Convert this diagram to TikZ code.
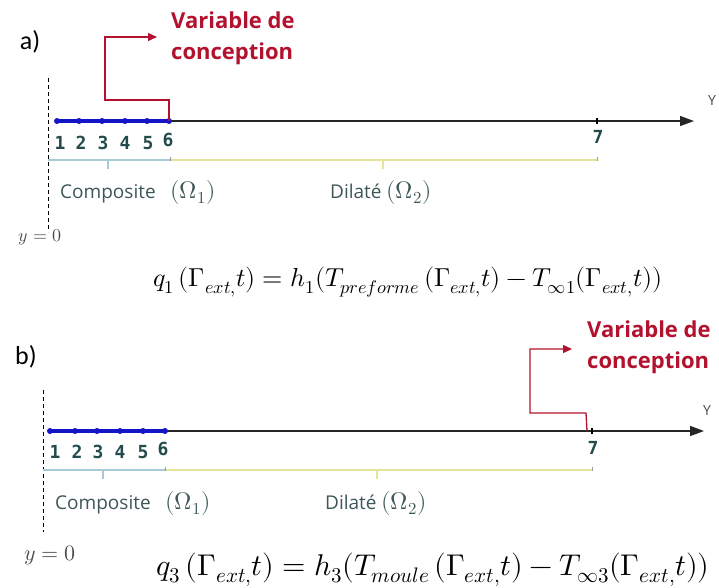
\documentclass[tikz,border=0pt]{standalone}
\usepackage{fontspec}
\usepackage{unicode-math}
\setmainfont{Carlito}
\setmathfont{Latin Modern Math}
\newfontfamily\numfont{DejaVu Sans Mono}
\newfontfamily\labfont{Open Sans}
\newfontfamily\redfont{Open Sans}
\usetikzlibrary{arrows.meta}
\definecolor{vred}{HTML}{B3122E}
\definecolor{vblue}{HTML}{1414C8}
\definecolor{nteal}{HTML}{234B4B}
\definecolor{lgray}{HTML}{3E5656}
\definecolor{bbr}{HTML}{A8CAD6}
\definecolor{ybr}{HTML}{E4E49A}
\newcommand{\omlab}[1]{{\fontsize{24}{24}\selectfont$(\Omega_{#1})$}}
\begin{document}
\begin{tikzpicture}[x=1pt,y=-1pt,
  panel/.style={font=\fontsize{26}{28}\selectfont, inner sep=0pt},
  vtext/.style={font=\fontsize{22}{31}\selectfont\redfont\bfseries, text=vred, align=left, inner sep=0pt, anchor=west},
  redc/.style={draw=vred, line width=1.3pt},
  redarrow/.style={redc, -{Triangle[length=9pt,width=8pt]}},
  dashline/.style={draw=black, dashed, line width=0.8pt, dash pattern=on 4pt off 3pt},
  axisline/.style={draw=black!85, line width=1.4pt, -{Triangle[length=14pt,width=10pt]}},
  bluel/.style={draw=vblue, line width=3.2pt},
  bdot/.style={circle, fill=vblue, inner sep=0pt, minimum size=6pt},
  num/.style={font=\fontsize{18}{18}\selectfont\numfont\bfseries, text=nteal, inner sep=0pt},
  bbrace/.style={draw=bbr, line width=1.4pt},
  ybrace/.style={draw=ybr, line width=2pt},
  dom/.style={font=\fontsize{19}{20}\selectfont\labfont, text=lgray, inner sep=0pt, anchor=west},
  yl/.style={font=\fontsize{14}{16}\selectfont\labfont, text=black!70, inner sep=0pt},
  eqna/.style={font=\fontsize{26}{26}\selectfont, inner sep=0pt},
  eqnb/.style={font=\fontsize{30}{30}\selectfont, inner sep=0pt},
  yzero/.style={font=\fontsize{18}{20}\selectfont, text=black!70, inner sep=0pt},
  yzerob/.style={font=\fontsize{22}{22}\selectfont, text=black!70, inner sep=0pt}
]
\useasboundingbox (0,0) rectangle (719,587);

%% ===== Panel a =====
\node[panel] (la) at (30,42) {a)};
\node[vtext] (va) at (171,38) {Variable de\\conception};
\coordinate (da1) at (48,78);
\coordinate (da2) at (48,232);
\draw[dashline] (da1) -- (da2);
\coordinate (a1) at (57,121);
\coordinate (a2) at (79,121);
\coordinate (a3) at (102,121);
\coordinate (a4) at (125,121);
\coordinate (a5) at (147,121);
\coordinate (a6) at (169,121);
\coordinate (a7) at (597,121);
\coordinate (ae) at (694,121);
\draw[axisline] (a6) -- (ae);
\draw[bluel] (a1) -- (a6);
\foreach \i in {1,...,6} \node[bdot] at (a\i) {};
\draw[line width=1.2pt] ([yshift=-3pt]a7) -- ([yshift=3pt]a7);
\node[yl] (ya) at (712,100) {Y};
\node[num] (na1) at (60,143) {1};
\node[num] (na2) at (81,143) {2};
\node[num] (na3) at (103,143) {3};
\node[num] (na4) at (125,143) {4};
\node[num] (na5) at (148,143) {5};
\node[num] (na6) at (168,140) {6};
\node[num] (na7) at (598,137) {7};
\coordinate (ra0) at (169,100);
\coordinate (ra1) at (105,100);
\coordinate (ra2) at (105,37);
\coordinate (ra3) at (157,37);
\draw[redarrow] (a6) -- (ra0) -- (ra1) -- (ra2) -- (ra3);
\coordinate (ba1) at (48,160);
\coordinate (ba2) at (170,160);
\coordinate (ba3) at (597,160);
\draw[bbrace] (ba1) -- (ba2);
\draw[bbrace] (108,160) -- (108,169);
\draw[ybrace] (ba2) -- (ba3);
\draw[ybrace] (383,160) -- (383,169);
\draw[draw=black!40, line width=0.6pt] (170,157) -- (170,161);
\draw[draw=black!40, line width=0.6pt] (597,157) -- (597,161);
\node[dom] (ca) at (60,192) {Composite\ \ \ \omlab{1}};
\node[dom] (da) at (330,192) {Dilaté \omlab{2}};
\node[yzero] (ya0) at (40,237) {$y=0$};
\node[eqna] (eqa) at (408,282) {$q_1\,(\Gamma_{ext,}t) = h_1(T_{preforme}\,(\Gamma_{ext,}t) - T_{\infty 1}(\Gamma_{ext,}t))$};

%% ===== Panel b =====
\node[panel] (lb) at (26,357) {b)};
\node[vtext] (vb) at (587,347) {Variable de\\conception};
\coordinate (db1) at (43,390);
\coordinate (db2) at (43,532);
\draw[dashline] (db1) -- (db2);
\coordinate (b1) at (50,431);
\coordinate (b2) at (75,431);
\coordinate (b3) at (97,431);
\coordinate (b4) at (120,431);
\coordinate (b5) at (143,431);
\coordinate (b6) at (165,431);
\coordinate (b7) at (592,431);
\coordinate (be) at (704,431);
\draw[axisline] (b6) -- (be);
\draw[bluel] (b1) -- (b6);
\foreach \i in {1,...,6} \node[bdot] at (b\i) {};
\draw[line width=1.2pt] ([yshift=-3pt]b7) -- ([yshift=3pt]b7);
\node[yl] (yb) at (707,410) {Y};
\node[num] (nb1) at (55,452) {1};
\node[num] (nb2) at (77,452) {2};
\node[num] (nb3) at (98,452) {3};
\node[num] (nb4) at (120,452) {4};
\node[num] (nb5) at (143,452) {5};
\node[num] (nb6) at (163,449) {6};
\node[num] (nb7) at (593,448) {7};
\coordinate (rb0) at (586,413);
\coordinate (rb1) at (530,413);
\coordinate (rb2) at (530,349);
\coordinate (rb3) at (572,349);
\draw[redarrow] ([xshift=-5pt]b7) -- (rb0) -- (rb1) -- (rb2) -- (rb3);
\coordinate (bb1) at (43,470);
\coordinate (bb2) at (165,470);
\coordinate (bb3) at (592,470);
\draw[bbrace] (bb1) -- (bb2);
\draw[bbrace] (103,470) -- (103,479);
\draw[ybrace] (bb2) -- (bb3);
\draw[ybrace] (377,470) -- (377,479);
\draw[draw=black!40, line width=0.6pt] (165,467) -- (165,471);
\draw[draw=black!40, line width=0.6pt] (592,467) -- (592,471);
\node[dom] (cb) at (55,503) {Composite\ \ \ \omlab{1}};
\node[dom] (db) at (325,503) {Dilaté \omlab{2}};
\node[yzerob] (yb0) at (50,555) {$y=0$};
\node[eqnb] (eqb) at (433,570) {$q_3\,(\Gamma_{ext,}t) = h_3(T_{moule}\,(\Gamma_{ext,}t) - T_{\infty 3}(\Gamma_{ext,}t))$};
\end{tikzpicture}
\end{document}
